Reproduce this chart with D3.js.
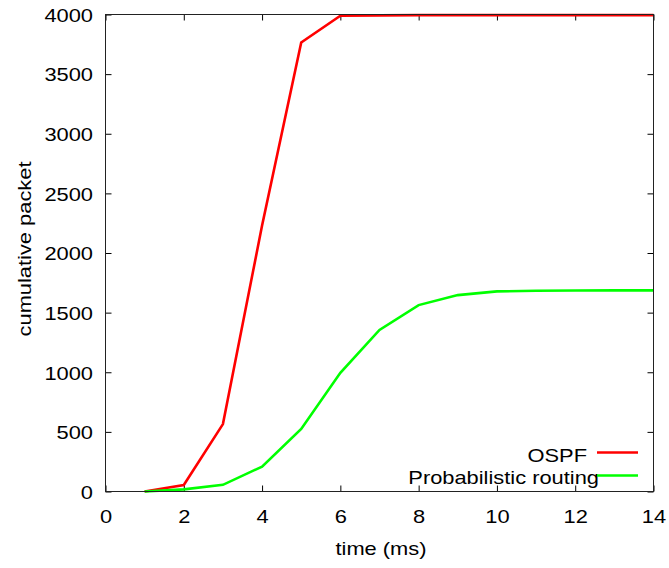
<!DOCTYPE html>
<html>
<head>
<meta charset="utf-8">
<script src="https://cdn.jsdelivr.net/npm/d3@7"></script>
<style>
html,body{margin:0;padding:0;background:#fff;}
text{font-family:"Liberation Sans",Arial,sans-serif;fill:#000;}
</style>
</head>
<body>
<svg id="chart" width="669" height="568"></svg>
<script>
const times = [1,2,3,4,5,6,7,8,9,10,11,12,13,14];
const ospf = [0,55,565,2230,3765,3990,3993,3995,3995,3995,3995,3995,3995,3995];
const prob = [0,18,56,209,525,995,1355,1563,1647,1678,1683,1686,1687,1687];
const seriesNames = ["OSPF","Probabilistic routing"];
const seriesColors = ["#ff0000","#00ff00"];
const xTicks = [0,2,4,6,8,10,12,14];
const yTicks = [0,500,1000,1500,2000,2500,3000,3500,4000];

const svg = d3.select("#chart");
const L=105.5, R=653.5, T=14.5, B=491.5;
const FS = 19, STRETCH = 1.15;
const x = d3.scaleLinear().domain([0,14]).range([L,R]);
const y = d3.scaleLinear().domain([0,4000]).range([B,T]);
const fmt = d3.format("d");

const tl = 6;
const g = svg.append("g");
g.append("g").attr("transform",`translate(0,${B})`)
  .call(d3.axisBottom(x).tickValues(xTicks).tickFormat(fmt).tickSizeInner(-tl).tickSizeOuter(0))
  .call(a=>a.select(".domain").remove())
  .call(a=>a.selectAll("text").attr("font-size",FS).attr("y",31.5).attr("dy",0));
g.append("g").attr("transform",`translate(0,${T})`)
  .call(d3.axisTop(x).tickValues(xTicks).tickSizeInner(-tl).tickSizeOuter(0).tickFormat(""))
  .call(a=>a.select(".domain").remove());
g.append("g").attr("transform",`translate(${L},0)`)
  .call(d3.axisLeft(y).tickValues(yTicks).tickFormat(fmt).tickSizeInner(-tl).tickSizeOuter(0).tickPadding(12.5))
  .call(a=>a.select(".domain").remove())
  .call(a=>a.selectAll("text").attr("font-size",FS).attr("dy","0.36em"));
g.append("g").attr("transform",`translate(${R},0)`)
  .call(d3.axisRight(y).tickValues(yTicks).tickSizeInner(-tl).tickSizeOuter(0).tickFormat(""))
  .call(a=>a.select(".domain").remove());
g.selectAll(".tick line").attr("stroke","#000").attr("stroke-width",1);

const data = [ospf, prob];
const line = d3.line().x((d,i)=>x(times[i])).y(d=>y(d));
data.forEach((s,k)=>{
  svg.append("path").datum(s).attr("d",line)
    .attr("fill","none").attr("stroke",seriesColors[k]).attr("stroke-width",2.6)
    .attr("stroke-linejoin","miter");
});

svg.append("rect").attr("x",L).attr("y",T).attr("width",R-L).attr("height",B-T)
  .attr("fill","none").attr("stroke","#222").attr("stroke-width",1);

// legend
const legLineY = [452.5, 475.5];
const legBase = [461.5, 483.5];
const legTextX = [587, 599];
seriesNames.forEach((n,k)=>{
  svg.append("text").attr("x",legTextX[k]).attr("y",legBase[k])
    .attr("text-anchor","end").attr("font-size",FS).text(n);
  svg.append("line").attr("x1",597).attr("x2",638).attr("y1",legLineY[k]).attr("y2",legLineY[k])
    .attr("stroke",seriesColors[k]).attr("stroke-width",2.6);
});

svg.append("text").attr("x",381).attr("y",555).attr("text-anchor","middle")
  .attr("font-size",FS).text("time (ms)");
svg.append("text").attr("transform",`translate(31,249) rotate(-90)`)
  .attr("text-anchor","middle").attr("font-size",FS).text("cumulative packet");

// widen glyphs horizontally to match the reference's wide sans face
svg.selectAll("text").each(function(){
  const w = this.getComputedTextLength();
  if (w > 0) d3.select(this).attr("textLength", w*STRETCH).attr("lengthAdjust","spacingAndGlyphs");
});
</script>
</body>
</html>
